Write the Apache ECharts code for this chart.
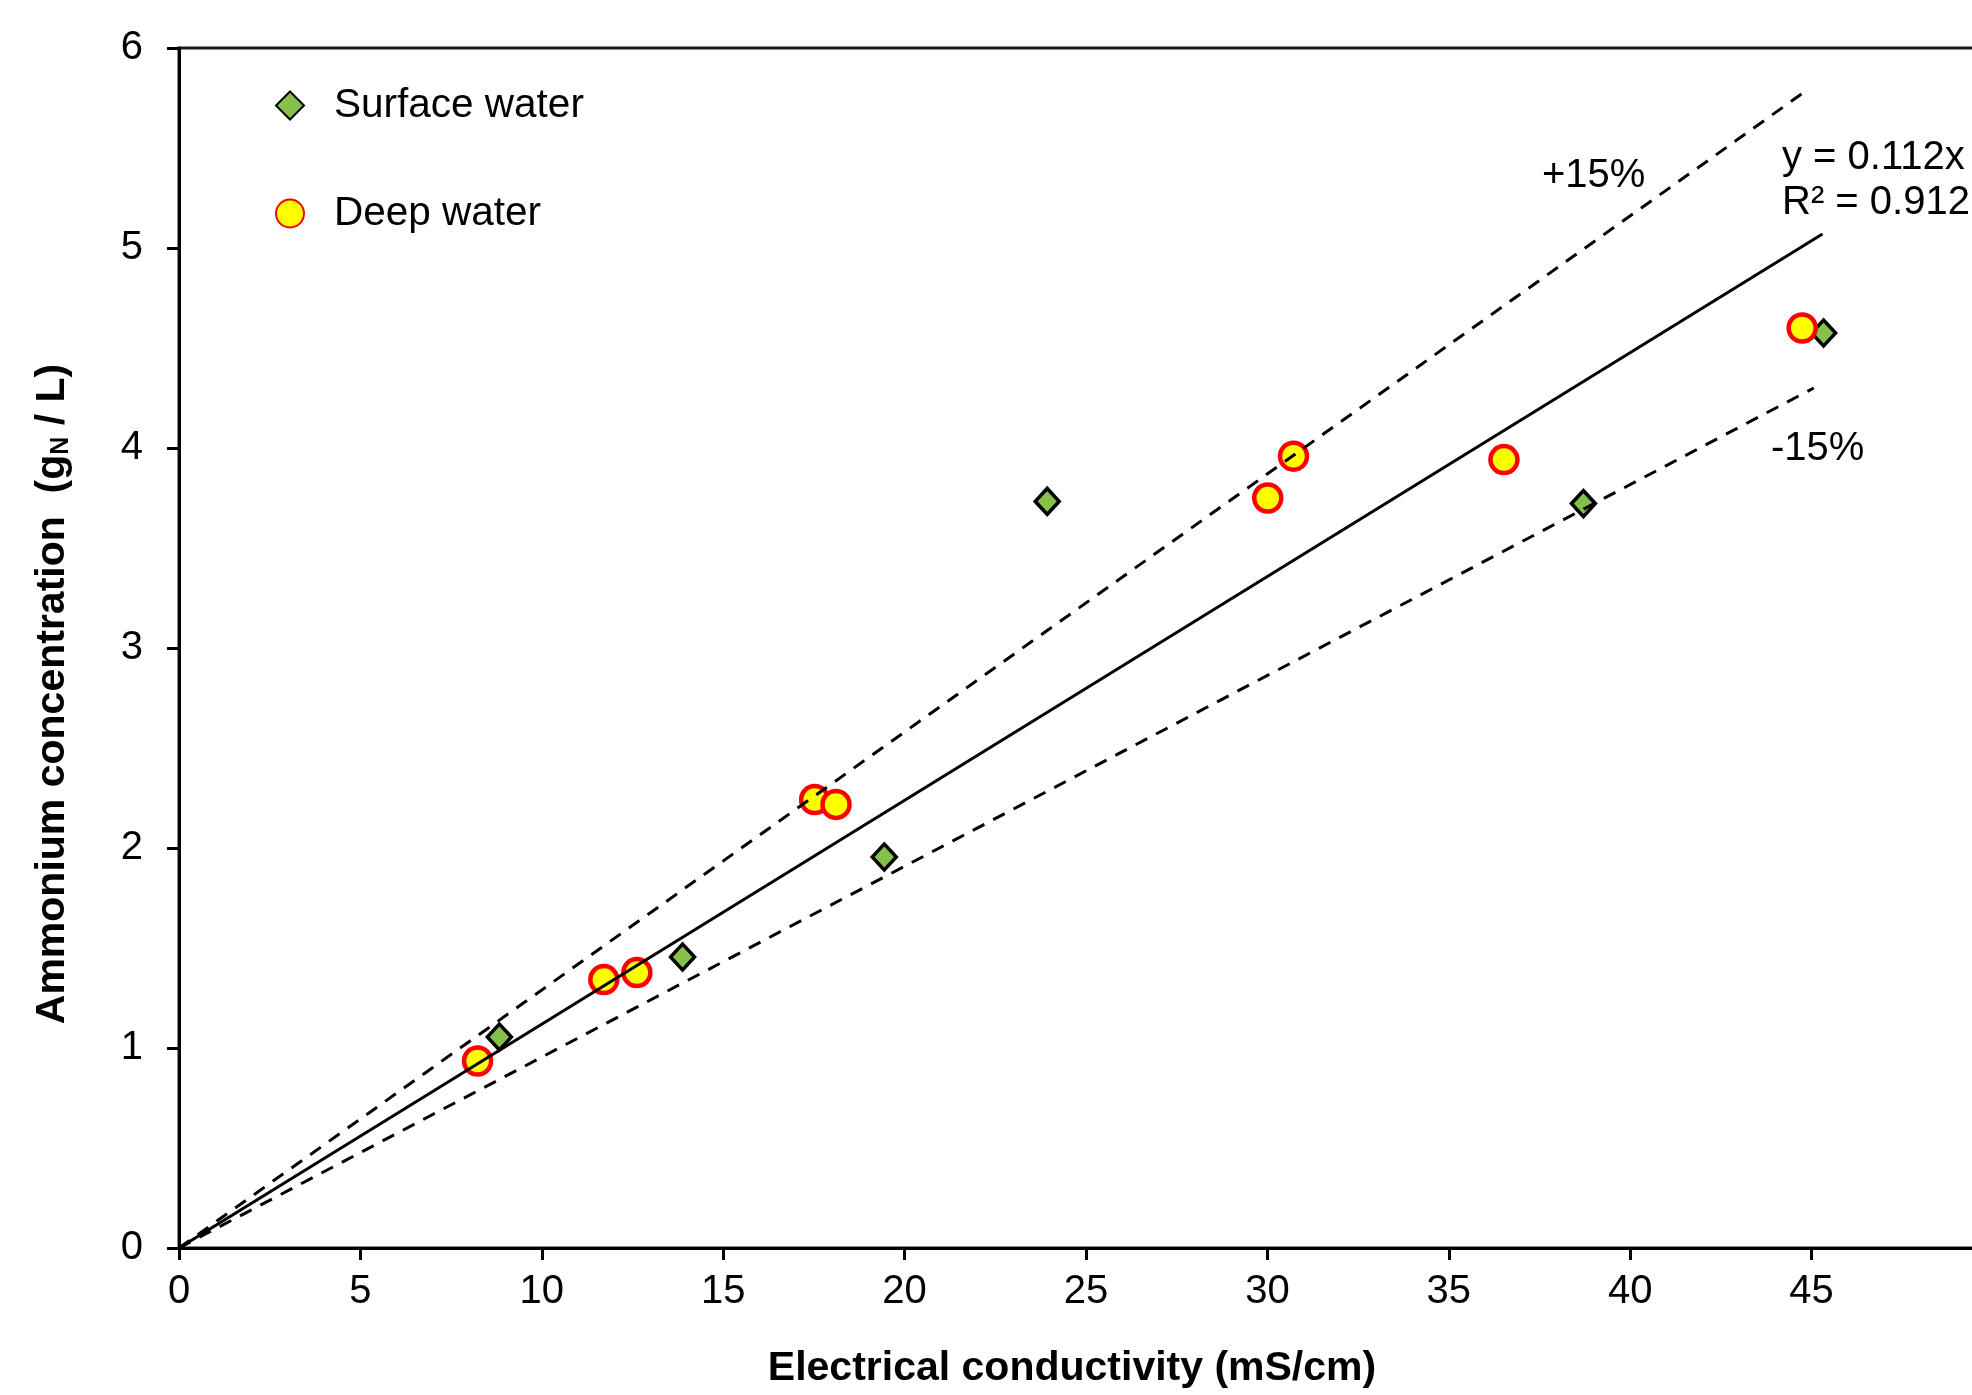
<!DOCTYPE html>
<html>
<head>
<meta charset="utf-8">
<script src="https://cdn.jsdelivr.net/npm/echarts@6/dist/echarts.min.js"></script>
<style>
html,body{margin:0;padding:0;background:#fff;}
#chart{width:1972px;height:1395px;}
</style>
</head>
<body>
<div id="chart"></div>
<script>
// ---- data ----
const surfaceX = [8.83, 13.88, 19.44, 23.93, 38.71, 45.33];
const surfaceY = [1.055, 1.455, 1.955, 3.733, 3.722, 4.575];
const deepX = [8.23, 11.71, 12.62, 17.52, 18.11, 30.01, 30.72, 36.52, 44.74];
const deepY = [0.935, 1.342, 1.377, 2.242, 2.218, 3.750, 3.959, 3.942, 4.600];
const fitX = [0, 45.3];
const fitY = [0, 5.07];
const upperX = [0, 44.8];
const upperY = [0, 5.78];
const lowerX = [0, 45.06];
const lowerY = [0, 4.30];
const xTicks = [0, 5, 10, 15, 20, 25, 30, 35, 40, 45, 50];
const yTicks = [0, 1, 2, 3, 4, 5, 6];
const seriesNames = ['Surface water', 'Deep water'];
const equationText = ['y = 0.112x', 'R\u00b2 = 0.912'];
const bandLabels = ['+15%', '-15%'];

const pairs = (xs, ys) => xs.map((x, i) => [x, ys[i]]);
const FONT = "'Liberation Sans', Arial, sans-serif";

const chart = echarts.init(document.getElementById('chart'), null, {renderer: 'canvas'});
chart.setOption({
  animation: false,
  backgroundColor: '#fff',
  textStyle: {fontFamily: FONT, color: '#000'},
  grid: {left: 179, top: 48, width: 1814, height: 1200, outerBoundsMode: 'none', containLabel: false,
         show: true, borderColor: '#1a1a1a', borderWidth: 3, backgroundColor: 'transparent'},
  legend: {
    orient: 'vertical', left: 270, top: 80, itemGap: 67,
    itemWidth: 28, itemHeight: 28, symbolKeepAspect: true,
    textStyle: {fontSize: 40.5, fontFamily: FONT, color: '#000', padding: [0, 0, 0, 25]},
    data: seriesNames
  },
  xAxis: {
    type: 'value', min: xTicks[0], max: xTicks[xTicks.length - 1], interval: 5,
    name: 'Electrical conductivity (mS/cm)', nameLocation: 'middle', nameGap: 100,
    nameTextStyle: {fontSize: 41, fontWeight: 'bold', fontFamily: FONT, color: '#000', padding: [0, 28, 0, 0]},
    axisLine: {lineStyle: {color: '#000', width: 3}},
    axisTick: {show: true, inside: false, length: 12, lineStyle: {color: '#000', width: 3}},
    axisLabel: {fontSize: 40, color: '#000', margin: 24, fontFamily: FONT},
    splitLine: {show: false}
  },
  yAxis: {
    type: 'value', min: yTicks[0], max: yTicks[yTicks.length - 1], interval: 1,
    axisLine: {lineStyle: {color: '#000', width: 3}},
    axisTick: {show: true, inside: false, length: 12, lineStyle: {color: '#000', width: 3}},
    axisLabel: {fontSize: 40, color: '#000', margin: 36, fontFamily: FONT},
    splitLine: {show: false}
  },
  graphic: [
    {
      type: 'text', x: 53, y: 694, rotation: Math.PI / 2,
      style: {
        text: '{a|Ammonium concentration  (g}{s|N}{a| / L)}',
        align: 'center', verticalAlign: 'middle',
        rich: {
          a: {fontSize: 41, fontWeight: 'bold', fontFamily: FONT, fill: '#000', verticalAlign: 'bottom'},
          s: {fontSize: 25, fontWeight: 'bold', fontFamily: FONT, fill: '#000', verticalAlign: 'bottom'}
        }
      }
    },
    {type: 'text', x: 1542, y: 176, style: {text: bandLabels[0], font: '40px ' + FONT, fill: '#000', align: 'left', verticalAlign: 'middle'}},
    {type: 'text', x: 1771, y: 449, style: {text: bandLabels[1], font: '40px ' + FONT, fill: '#000', align: 'left', verticalAlign: 'middle'}},
    {type: 'text', x: 1782, y: 135, style: {text: equationText.join('\n'), font: '40px ' + FONT, lineHeight: 45, fill: '#000', align: 'left', verticalAlign: 'top'}}
  ],
  series: [
    {
      name: seriesNames[0], type: 'scatter', z: 2,
      symbol: 'diamond', symbolSize: [24, 26],
      itemStyle: {color: '#86C04A', borderColor: '#000', borderWidth: 3.5, opacity: 1},
      data: pairs(surfaceX, surfaceY)
    },
    {
      name: seriesNames[1], type: 'scatter', z: 3,
      symbol: 'circle', symbolSize: 27,
      itemStyle: {color: '#FFFF00', borderColor: '#FF0000', borderWidth: 4.5, opacity: 1},
      data: pairs(deepX, deepY)
    },
    {
      name: 'fit', type: 'line', z: 4, showSymbol: false, symbol: 'none', silent: true,
      lineStyle: {color: '#000', width: 3, type: 'solid'},
      data: pairs(fitX, fitY)
    },
    {
      name: 'upper', type: 'line', z: 4, showSymbol: false, symbol: 'none', silent: true,
      lineStyle: {color: '#000', width: 3, type: [13, 10]},
      data: pairs(upperX, upperY)
    },
    {
      name: 'lower', type: 'line', z: 4, showSymbol: false, symbol: 'none', silent: true,
      lineStyle: {color: '#000', width: 3, type: [13, 10]},
      data: pairs(lowerX, lowerY)
    }
  ]
});
</script>
</body>
</html>
